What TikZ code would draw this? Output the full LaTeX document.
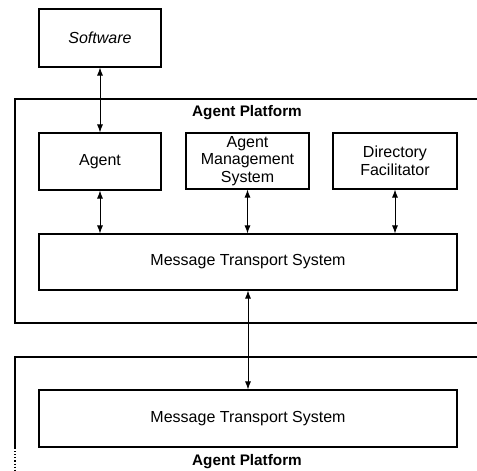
\documentclass[tikz,border=0pt]{standalone}
\usepackage{fontspec}
\setmainfont{Liberation Sans}
\usetikzlibrary{arrows.meta}
\begin{document}
\begin{tikzpicture}[x=1pt,y=-1pt,
  box/.style={draw,line width=1.1pt,inner sep=1pt,align=center,
    font=\fontsize{16}{17.5}\selectfont},
  link/.style={line width=0.9pt,{Latex[length=8pt,width=6pt]}-{Latex[length=8pt,width=6pt]}},
  frame/.style={line width=1.1pt},
  plabel/.style={font=\fontsize{15.3}{17}\selectfont\bfseries}]
\useasboundingbox (0,0) rectangle (477,471);
\node[box,minimum width=122pt,minimum height=58pt] (sw) at (100,38) {\itshape Software};
% upper platform
\draw[frame] (478,99) -- (15,99) -- (15,323) -- (478,323);
\node[plabel] (pl1) at (247,113) {Agent Platform};
\node[box,minimum width=122pt,minimum height=57pt] (ag) at (100,161.5) {Agent};
\node[box,minimum width=123pt,minimum height=56pt] (ams) at (247.5,161) {Agent\\Management\\System};
\node[box,minimum width=124pt,minimum height=56pt] (df) at (395,161) {Directory\\Facilitator};
\node[box,minimum width=418pt,minimum height=56pt] (mts1) at (248,262) {Message Transport System};
% lower platform
\draw[frame] (478,357) -- (15,357) -- (15,448);
\draw[line width=1.1pt,dotted] (15,448) -- (15,471);
\node[box,minimum width=418pt,minimum height=57pt] (mts2) at (248,418.5) {Message Transport System};
\node[plabel] (pl2) at (247,462) {Agent Platform};
% connectors
\draw[link] (sw.south) -- (ag.north);
\draw[link] (ag.south) -- (ag.south |- mts1.north);
\draw[link] (ams.south) -- (ams.south |- mts1.north);
\draw[link] (df.south) -- (df.south |- mts1.north);
\draw[link] (mts1.south) -- (mts2.north);
\end{tikzpicture}
\end{document}
